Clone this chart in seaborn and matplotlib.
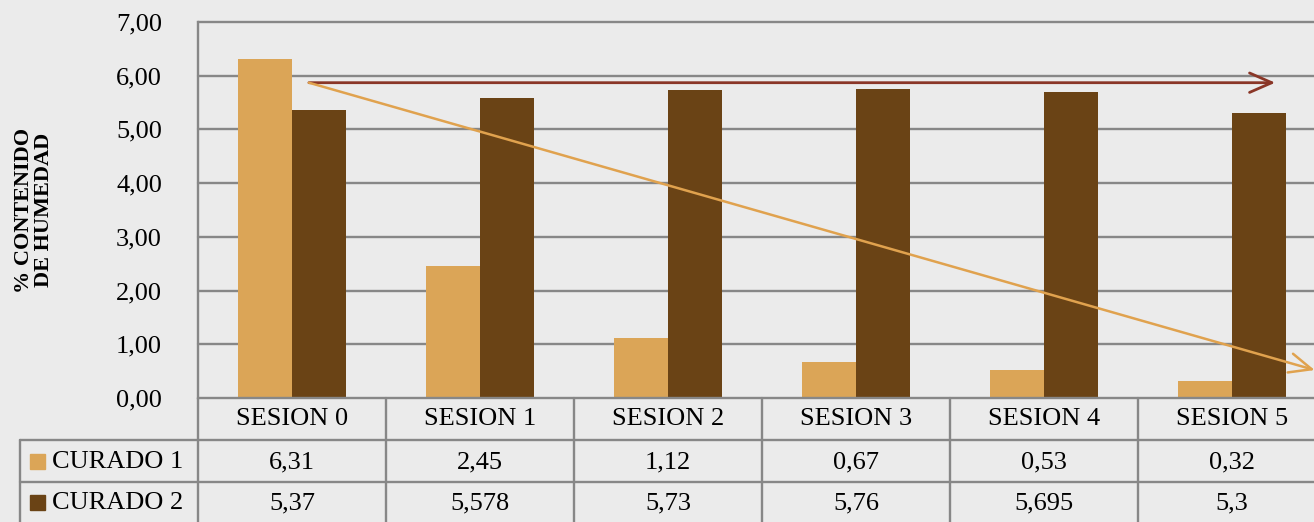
import matplotlib
matplotlib.use("Agg")
import matplotlib.pyplot as plt
import seaborn as sns
import pandas as pd

# Data
sesiones = ["SESION 0", "SESION 1", "SESION 2", "SESION 3", "SESION 4", "SESION 5"]
curado_1 = [6.31, 2.45, 1.12, 0.67, 0.53, 0.32]
curado_2 = [5.37, 5.578, 5.73, 5.76, 5.695, 5.3]
series = ["CURADO 1", "CURADO 2"]
y_ticks = [0, 1, 2, 3, 4, 5, 6, 7]

# Trend arrows (data coordinates: category position, value)
trend_start = (0.09, 5.87)
trend_flat_end = (5.23, 5.87)
trend_down_end = (5.44, 0.52)

c1 = "#DBA557"
c2 = "#6A4315"
grid_c = "#878787"
bg = "#EBEBEB"
font = "Liberation Serif"

sns.set_theme(style="white")
plt.rcParams["font.family"] = [font, "DejaVu Serif"]
plt.rcParams["text.color"] = "black"
plt.rcParams["ytick.color"] = "black"

df = pd.DataFrame({
    "sesion": sesiones * 2,
    "valor": curado_1 + curado_2,
    "serie": [series[0]] * len(sesiones) + [series[1]] * len(sesiones),
})

W, H = 1314, 522
fig = plt.figure(figsize=(W / 100, H / 100), dpi=100, facecolor=bg)
ax_l, ax_r, ax_t, ax_b = 198, 198 + 188 * 6, 22, 398
ax = fig.add_axes([ax_l / W, (H - ax_b) / H, (ax_r - ax_l) / W, (ax_b - ax_t) / H])
ax.set_facecolor(bg)

sns.barplot(data=df, x="sesion", y="valor", hue="serie", palette=[c1, c2],
            width=0.57, gap=0, saturation=1, legend=False, ax=ax, zorder=3,
            linewidth=0)

ax.set_xlim(-0.5, len(sesiones) - 0.5)
ax.set_ylim(0, 7)
ax.set_yticks(y_ticks)
ax.set_yticklabels([f"{v:.2f}".replace(".", ",") for v in y_ticks],
                   fontsize=19, family=font, color="black")
ax.tick_params(axis="y", length=0, pad=26)
ax.set_xticks([])
ax.set_xlabel("")
ax.set_ylabel("")

for y in y_ticks[1:]:
    ax.axhline(y, color=grid_c, lw=1.7, zorder=1, clip_on=False)
for s in ["top", "right", "bottom"]:
    ax.spines[s].set_visible(False)
ax.spines["left"].set_color(grid_c)
ax.spines["left"].set_linewidth(1.7)

fig.text(0.026, 0.5 + (H / 2 - (ax_t + ax_b) / 2) / H, "% CONTENIDO\nDE HUMEDAD",
         rotation=90, ha="center", va="center", fontsize=16, fontweight="bold",
         family=font, linespacing=1.0, color="black")

# Trend arrows
ax.annotate("", xy=trend_flat_end, xytext=trend_start,
            arrowprops=dict(arrowstyle="->,head_length=0.8,head_width=0.35",
                            color="#8A3627", lw=2.0, mutation_scale=20,
                            shrinkA=0, shrinkB=0),
            annotation_clip=False, zorder=5)
ax.annotate("", xy=trend_down_end, xytext=trend_start,
            arrowprops=dict(arrowstyle="->,head_length=0.8,head_width=0.35",
                            color="#E0A24E", lw=1.8, mutation_scale=20,
                            shrinkA=0, shrinkB=0),
            annotation_clip=False, zorder=5)

# Data table under the axis
span = ax_b - ax_t
def fy(px):
    return (ax_b - px) / span

trans = ax.get_xaxis_transform()
row_lines = [398, 440, 482]
bottom = 540
lw_t = 1.7
n = len(sesiones)
# horizontal lines
ax.plot([-0.5, n - 0.5], [fy(398)] * 2, transform=trans, color=grid_c, lw=lw_t, clip_on=False, zorder=4)
x_left = (20 - ax_l) / (ax_r - ax_l)
for py in row_lines[1:]:
    ax.plot([x_left, 1.0], [fy(py)] * 2, transform=ax.transAxes, color=grid_c, lw=lw_t, clip_on=False)
# vertical lines
for i in range(n + 1):
    ax.plot([i - 0.5, i - 0.5], [fy(398), fy(bottom)], transform=trans, color=grid_c, lw=lw_t, clip_on=False)
ax.plot([x_left, x_left], [fy(440), fy(bottom)], transform=ax.transAxes, color=grid_c, lw=lw_t, clip_on=False)

def fmt(v):
    return str(v).replace(".", ",")

for i, name in enumerate(sesiones):
    ax.text(i, fy(419), name, transform=trans, ha="center", va="center", fontsize=19, family=font)
    ax.text(i, fy(462), fmt(curado_1[i]), transform=trans, ha="center", va="center", fontsize=19, family=font)
    ax.text(i, fy(503), fmt(curado_2[i]), transform=trans, ha="center", va="center", fontsize=19, family=font)

# Row headers with legend keys
for name, col, py in [(series[0], c1, 461), (series[1], c2, 502)]:
    fig.patches.append(plt.Rectangle((30 / W, (H - py - 8) / H), 15 / W, 15 / H,
                                     transform=fig.transFigure, color=col, figure=fig))
    fig.text(52 / W, (H - py - 1) / H, name, ha="left", va="center", fontsize=19, family=font)

fig.savefig("out.png", dpi=100, facecolor=bg)
